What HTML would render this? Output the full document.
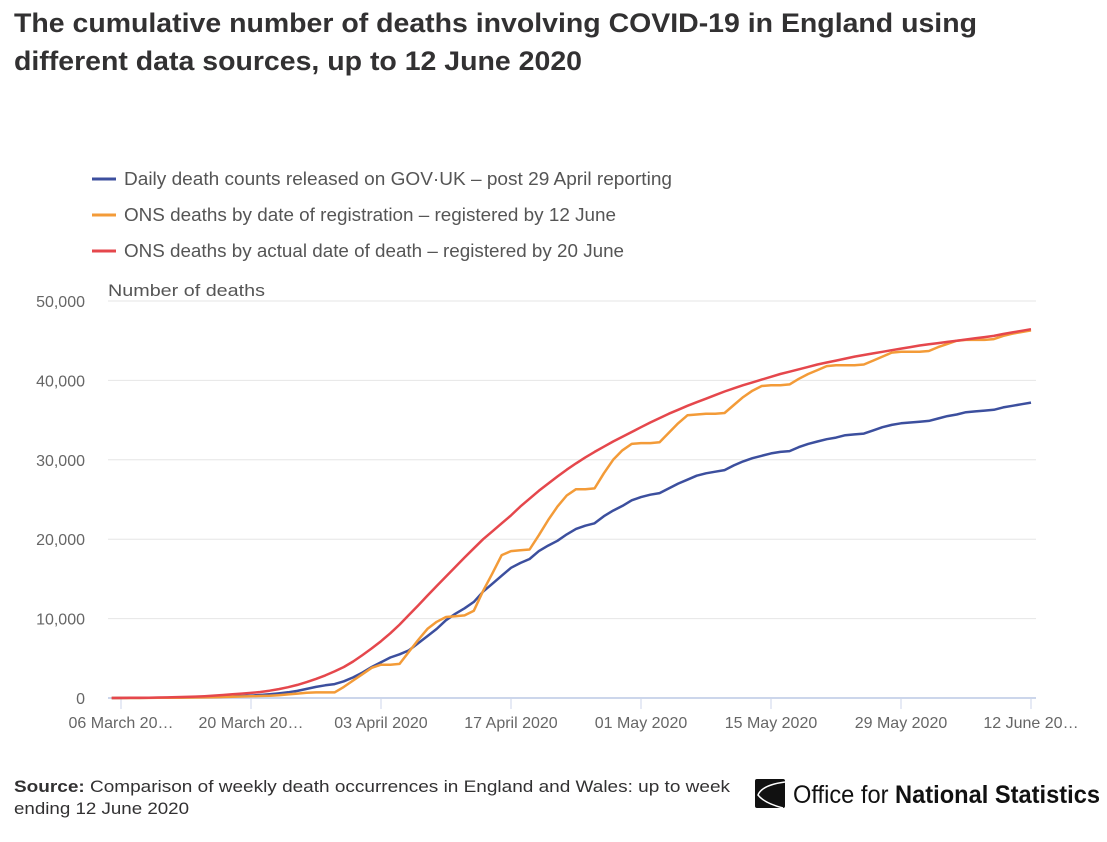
<!DOCTYPE html>
<html><head><meta charset="utf-8"><style>
body{margin:0;width:1107px;height:837px;background:#fff;overflow:hidden;font-family:"Liberation Sans",sans-serif;}
</style></head><body>
<svg width="1107" height="837" xmlns="http://www.w3.org/2000/svg" font-family="Liberation Sans, sans-serif">
<text x="14" y="32" font-size="27" font-weight="bold" fill="#323132" textLength="963" lengthAdjust="spacingAndGlyphs">The cumulative number of deaths involving COVID-19 in England using</text>
<text x="14" y="70" font-size="27" font-weight="bold" fill="#323132" textLength="568" lengthAdjust="spacingAndGlyphs">different data sources, up to 12 June 2020</text>
<g id="legend"></g>
<text x="108" y="296" font-size="17" fill="#555" textLength="157" lengthAdjust="spacingAndGlyphs">Number of deaths</text>
<g id="grid"></g>
<g id="xaxis"></g>
<g id="series"></g>
<text x="14" y="792" font-size="17" fill="#323132" textLength="716" lengthAdjust="spacingAndGlyphs"><tspan font-weight="bold">Source:</tspan> Comparison of weekly death occurrences in England and Wales: up to week</text>
<text x="14" y="814" font-size="17" fill="#323132" textLength="175" lengthAdjust="spacingAndGlyphs">ending 12 June 2020</text>
<g>
<rect x="755" y="779" width="30" height="29" rx="2" fill="#111"/>
<path d="M785 782 Q762 785 758 795 Q764 803 783 808" stroke="#fff" stroke-width="1.5" fill="none"/>
<text x="793" y="803" font-size="25" fill="#111" textLength="307" lengthAdjust="spacingAndGlyphs">Office for <tspan font-weight="bold">National Statistics</tspan></text>
</g>
</svg>
<script>
const yTicks=[0,10000,20000,30000,40000,50000];
const yTickLabels=["0","10,000","20,000","30,000","40,000","50,000"];
const xTickDays=[1,15,29,43,57,71,85,99];
const xTickLabels=["06 March 20…","20 March 20…","03 April 2020","17 April 2020","01 May 2020","15 May 2020","29 May 2020","12 June 20…"];
const seriesNames=["Daily death counts released on GOV·UK – post 29 April reporting","ONS deaths by date of registration – registered by 12 June","ONS deaths by actual date of death – registered by 20 June"];
const legendWidths=[548,492,500];
const seriesColors=["#3c4f9e","#f39b38","#e5474c"];
// daily values from 05 March to 12 June 2020
const govuk=[0,5,10,15,20,30,40,50,70,90,110,140,170,210,250,300,380,470,580,720,900,1150,1400,1600,1750,2100,2600,
3200,3900,4500,5100,5500,6000,6900,7800,8700,9800,10600,11300,12100,13400,14400,15400,16400,17000,17500,18500,19200,19800,20600,21300,21700,22000,22900,23600,24200,24900,
25300,25600,25800,26400,27000,27500,28000,28300,28500,28700,29300,29800,30200,30500,30800,31000,31100,31600,32000,32300,32600,32800,33100,33200,33300,33700,34100,34400,34600,34700,34800,
34900,35200,35500,35700,36000,36100,36200,36300,36600,36800,37000,37200];
const onsReg=[0,0,0,0,10,20,30,40,50,60,80,100,130,160,190,220,250,280,350,450,550,650,700,700,700,1400,2200,
3000,3800,4200,4200,4300,5800,7300,8700,9600,10200,10300,10400,11000,13500,15700,18000,18500,18600,18700,20500,22400,24100,25500,26300,26300,26400,28300,30000,31200,32000,
32100,32100,32200,33400,34600,35600,35700,35800,35800,35900,36900,37900,38700,39300,39400,39400,39500,40200,40800,41300,41800,41900,41900,41900,42000,42500,43000,43500,43600,43600,43600,
43700,44200,44600,45000,45100,45100,45100,45200,45600,45900,46100,46300];
const onsOcc=[0,10,20,30,40,60,80,110,140,180,230,300,380,470,550,640,760,920,1120,1360,1650,2000,2400,2850,3350,3900,4600,
5400,6250,7150,8150,9250,10450,11650,12900,14100,15300,16500,17700,18850,20000,21000,22000,23000,24100,25100,26100,27000,27900,28750,29550,30300,31000,31650,32300,32900,33500,
34100,34700,35250,35800,36300,36800,37250,37700,38150,38600,39000,39400,39750,40100,40450,40800,41100,41400,41700,42000,42250,42500,42750,43000,43200,43400,43600,43800,44000,44200,44400,
44550,44700,44850,45000,45150,45300,45450,45600,45850,46050,46250,46450];
const NS="http://www.w3.org/2000/svg";
const X=d=>121+(d-1)*9.2857;
const Y=v=>698-v*0.00794;
function mk(t,a,p){const e=document.createElementNS(NS,t);for(const k in a)e.setAttribute(k,a[k]);p.appendChild(e);return e;}
const grid=document.getElementById('grid');
yTicks.forEach((v,i)=>{
 const l=mk('line',{x1:108,x2:1036,y1:Y(v),y2:Y(v),stroke:i==0?'#ccd6eb':'#e6e6e6','stroke-width':i==0?2:1},grid);
 
 
 const t=mk('text',{x:85,y:Y(v)+6,'text-anchor':'end','font-size':16,fill:'#666'},grid);
 t.textContent=yTickLabels[i];
 
 
});
const xa=document.getElementById('xaxis');
xTickDays.forEach((d,i)=>{
 const l=mk('line',{x1:X(d),x2:X(d),y1:699,y2:709,stroke:'#ccd6eb','stroke-width':1},xa);
 
 
 const t=mk('text',{x:X(d),y:728,'text-anchor':'middle','font-size':16,fill:'#666'},xa);
 t.textContent=xTickLabels[i];
 
 
});
const ser=document.getElementById('series');
[govuk,onsReg,onsOcc].forEach((arr,s)=>{
 const pts=arr.map((v,i)=>X(i)+','+Y(v).toFixed(1)).join(' ');
 const p=mk('polyline',{points:pts,fill:'none',stroke:seriesColors[s],'stroke-width':2.5,'stroke-linejoin':'round'},ser);
 
 
});
const lg=document.getElementById('legend');
seriesNames.forEach((n,s)=>{
 const y=179+s*36;
 const l=mk('line',{x1:92,x2:116,y1:y,y2:y,stroke:seriesColors[s],'stroke-width':3},lg);
 
 
 const t=mk('text',{x:124,y:y+6,'font-size':18,fill:'#555',textLength:legendWidths[s],lengthAdjust:'spacingAndGlyphs'},lg);
 t.textContent=n;
 
 
});
</script>
</body></html>
